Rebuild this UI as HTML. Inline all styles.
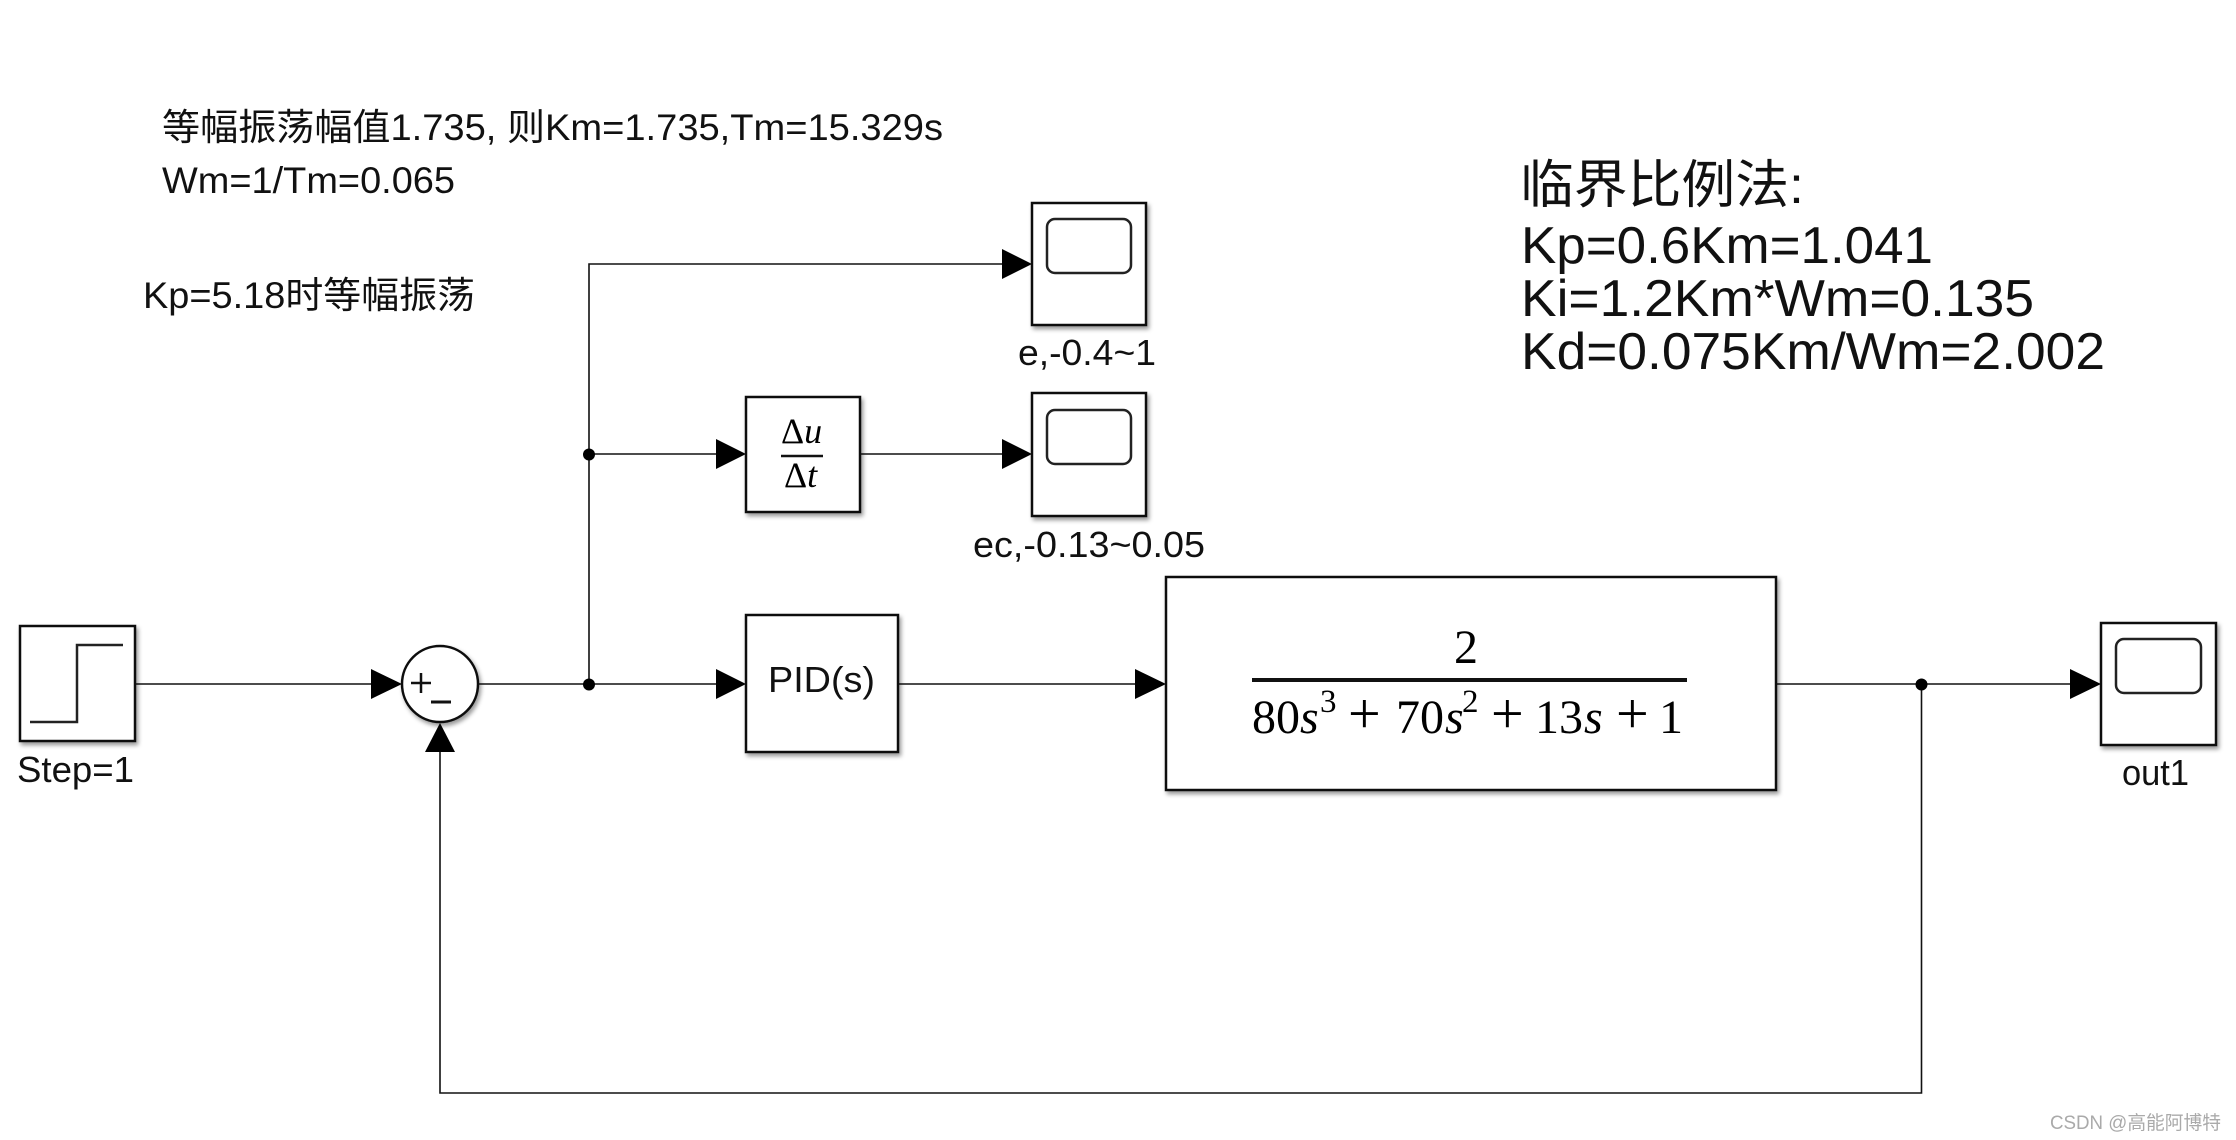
<!DOCTYPE html>
<html>
<head>
<meta charset="utf-8">
<style>
html,body{margin:0;padding:0;background:#fff;width:2236px;height:1140px;overflow:hidden}
svg{display:block}
text{font-family:"Liberation Sans","Noto Sans CJK SC",sans-serif;fill:#111}
.m{font-family:"Liberation Serif","Noto Serif CJK SC",serif;fill:#000}
.i{font-style:italic}
.b{fill:#fff;stroke:#111;stroke-width:2.5;filter:url(#sh)}
.w{fill:none;stroke:#111;stroke-width:1.6}
.s{fill:none;stroke:#222;stroke-width:2.5}
</style>
</head>
<body>
<svg width="2236" height="1140" viewBox="0 0 2236 1140" xmlns="http://www.w3.org/2000/svg">
<defs>
<filter id="sh" x="-10%" y="-10%" width="125%" height="125%">
<feDropShadow dx="2" dy="3" stdDeviation="2" flood-color="#000" flood-opacity="0.4"/>
</filter>
</defs>

<!-- wires -->
<path class="w" d="M135 684H372"/>
<path class="w" d="M478 684H716"/>
<path class="w" d="M589 684V264H1003"/>
<path class="w" d="M589 454H716"/>
<path class="w" d="M860 454H1003"/>
<path class="w" d="M898 684H1136"/>
<path class="w" d="M1775 684H2071"/>
<path class="w" d="M1921.500 684V1093H440V752"/>

<!-- arrowheads -->
<polygon points="371,669 402,684 371,699" fill="#000"/>
<polygon points="716,669 746,684 716,699" fill="#000"/>
<polygon points="716,439 746,454 716,469" fill="#000"/>
<polygon points="1002,249 1032,264 1002,279" fill="#000"/>
<polygon points="1002,439 1032,454 1002,469" fill="#000"/>
<polygon points="1135,669 1166,684 1135,699" fill="#000"/>
<polygon points="2070,669 2101,684 2070,699" fill="#000"/>
<polygon points="425,752 440,723 455,752" fill="#000"/>

<!-- junctions -->
<circle cx="589" cy="684.500" r="6" fill="#000"/>
<circle cx="589" cy="454.500" r="6" fill="#000"/>
<circle cx="1921.500" cy="684.500" r="6" fill="#000"/>

<!-- step -->
<rect class="b" x="20" y="626" width="115" height="115"/>
<path class="s" d="M30 722H77V645H123"/>
<text x="17" y="782" font-size="36" textLength="117" lengthAdjust="spacingAndGlyphs">Step=1</text>

<!-- sum -->
<ellipse class="b" cx="440" cy="684" rx="38" ry="38"/>
<path d="M411 683H431M421 673V693" stroke="#111" stroke-width="2.500" fill="none"/>
<path d="M431 702H451" stroke="#111" stroke-width="3" fill="none"/>

<!-- PID -->
<rect class="b" x="746" y="615" width="152" height="137"/>
<text x="768" y="692" font-size="36" textLength="107" lengthAdjust="spacingAndGlyphs">PID(s)</text>

<!-- derivative -->
<rect class="b" x="746" y="397" width="114" height="115"/>
<text class="m" x="781" y="443" font-size="36">Δ<tspan class="i">u</tspan></text>
<path d="M781 456H823" stroke="#111" stroke-width="2.500"/>
<text class="m" x="784" y="487" font-size="36">Δ<tspan class="i">t</tspan></text>

<!-- transfer function -->
<rect class="b" x="1166" y="577" width="610" height="213"/>
<text class="m" x="1466" y="663" font-size="48" text-anchor="middle">2</text>
<path d="M1252 680H1687" stroke="#111" stroke-width="4"/>
<text class="m" x="1252" y="733" font-size="48">80</text>
<text class="m i" x="1300" y="733" font-size="48">s</text>
<text class="m" x="1320" y="712" font-size="33">3</text>
<text class="m" x="1348" y="733" font-size="58">+</text>
<text class="m" x="1396" y="733" font-size="48">70</text>
<text class="m i" x="1445" y="733" font-size="48">s</text>
<text class="m" x="1462" y="712" font-size="33">2</text>
<text class="m" x="1491" y="733" font-size="58">+</text>
<text class="m" x="1535" y="733" font-size="48">13</text>
<text class="m i" x="1584" y="733" font-size="48">s</text>
<text class="m" x="1616" y="733" font-size="58">+</text>
<text class="m" x="1659" y="733" font-size="48">1</text>

<!-- scopes -->
<rect class="b" x="1032" y="203" width="114" height="122"/>
<rect x="1047" y="219" width="84" height="54" rx="8" fill="#fff" stroke="#222" stroke-width="2.500"/>
<text x="1018" y="365" font-size="36" textLength="138" lengthAdjust="spacingAndGlyphs">e,-0.4~1</text>

<rect class="b" x="1032" y="393" width="114" height="123"/>
<rect x="1047" y="410" width="84" height="54" rx="8" fill="#fff" stroke="#222" stroke-width="2.500"/>
<text x="973" y="557" font-size="36" textLength="232" lengthAdjust="spacingAndGlyphs">ec,-0.13~0.05</text>

<rect class="b" x="2101" y="623" width="115" height="122"/>
<rect x="2116" y="639" width="85" height="54" rx="8" fill="#fff" stroke="#222" stroke-width="2.500"/>
<text x="2122" y="785" font-size="36" textLength="67" lengthAdjust="spacingAndGlyphs">out1</text>

<!-- annotations -->
<text x="162" y="140" font-size="37" textLength="781" lengthAdjust="spacingAndGlyphs">等幅振荡幅值1.735, 则Km=1.735,Tm=15.329s</text>
<text x="162" y="193" font-size="37" textLength="293" lengthAdjust="spacingAndGlyphs">Wm=1/Tm=0.065</text>
<text x="143" y="308" font-size="37" textLength="332" lengthAdjust="spacingAndGlyphs">Kp=5.18时等幅振荡</text>

<text x="1520" y="203" font-size="52" textLength="284" lengthAdjust="spacingAndGlyphs">临界比例法:</text>
<text x="1521" y="263" font-size="52" textLength="412" lengthAdjust="spacingAndGlyphs">Kp=0.6Km=1.041</text>
<text x="1521" y="316" font-size="52" textLength="513" lengthAdjust="spacingAndGlyphs">Ki=1.2Km*Wm=0.135</text>
<text x="1521" y="369" font-size="52" textLength="584" lengthAdjust="spacingAndGlyphs">Kd=0.075Km/Wm=2.002</text>

<!-- watermark -->
<text x="2050" y="1129" font-size="19" textLength="171" lengthAdjust="spacingAndGlyphs" style="fill:#aaa">CSDN @高能阿博特</text>
</svg>
</body>
</html>
